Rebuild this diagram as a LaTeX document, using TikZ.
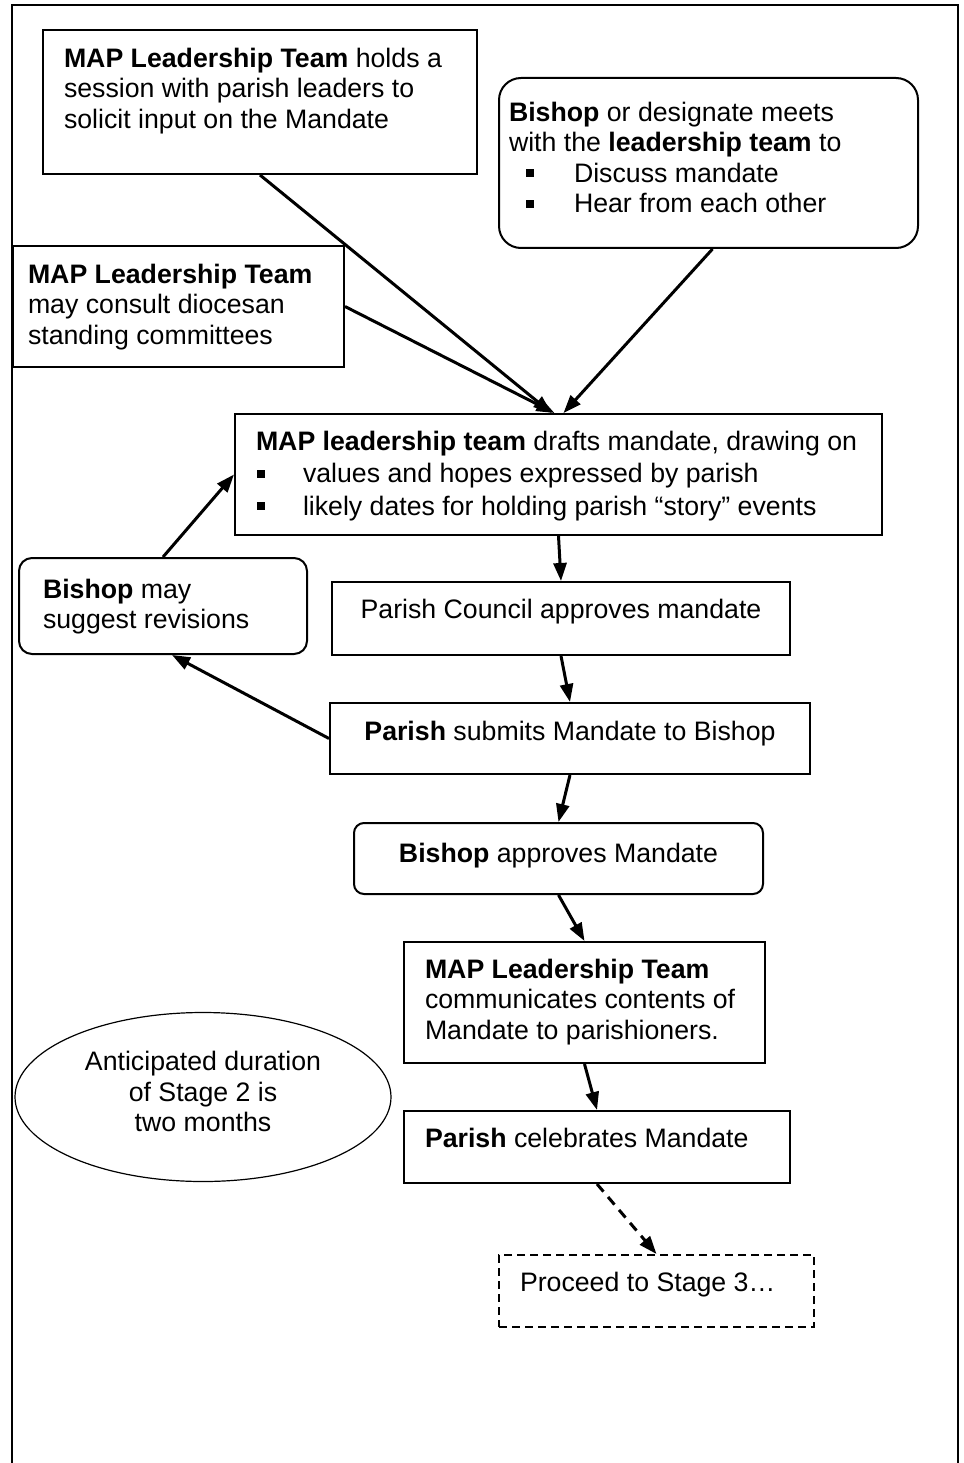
\documentclass[tikz,border=0pt]{standalone}
\usepackage{fontspec}
\setmainfont{Liberation Sans}
\usetikzlibrary{arrows.meta, shapes.geometric}

\newcommand{\boxtext}[3]{\parbox[t][#2][t]{#1}{\raggedright\strut#3}}
\newcommand{\boxtextc}[3]{\parbox[t][#2][t]{#1}{\centering\strut#3}}
\newcommand{\sqbul}[2]{\hspace*{#1}\makebox[#2][l]{\rule[5pt]{8pt}{8pt}}}

\begin{document}
\begin{tikzpicture}[
						x=1pt, y=-1pt,
						every node/.style = {font=\fontsize{26.7}{30.5}\selectfont},
						square/.style = {draw, line width=2pt, rectangle, anchor=north west, inner sep=0pt},
						rbox/.style = {square, rounded corners=#1},
						rbox/.default = 12pt,
						dbox/.style = {square, dash pattern=on 8pt off 5pt},
						oval/.style = {draw, ellipse, line width=1.2pt, minimum width=376pt, minimum height=169pt, inner sep=0pt, align=center},
						link/.style = {-{Triangle[length=18pt, width=13pt]}, line width=3pt}
					]
\useasboundingbox (0,0) rectangle (963,1463);
\draw[line width=2.5pt] (12,1463) -- (12,5) -- (958,5) -- (958,1463);

\node[square, inner xsep=21pt, inner ysep=16pt] (session) at (42,29)
	{\boxtext{392pt}{112pt}{\textbf{MAP Leadership Team} holds a\\ session with parish leaders to\\ solicit input on the Mandate}};
\node[rbox=22pt, inner xsep=10pt, inner ysep=22pt] (meets) at (498,77)
	{\boxtext{399pt}{126pt}{\textbf{Bishop} or designate meets\\ with the \textbf{leadership team} to\\ \sqbul{17pt}{48pt}Discuss mandate\\ \sqbul{17pt}{48pt}Hear from each other}};
\node[square, inner xsep=15pt, inner ysep=16pt] (consult) at (12,245)
	{\boxtext{301pt}{89pt}{\textbf{MAP Leadership Team}\\ may consult diocesan\\ standing committees}};
\node[square, inner xsep=21pt, inner ysep=15pt] (drafts) at (234,413)
	{\boxtext{605pt}{91pt}{\textbf{MAP leadership team} drafts mandate, drawing on\\[2pt] \sqbul{1pt}{46pt}values and hopes expressed by parish\\[2pt] \sqbul{1pt}{46pt}likely dates for holding parish “story” events}};
\node[rbox=13pt, inner xsep=24pt, inner ysep=19pt] (revise) at (18,557)
	{\boxtext{240pt}{58pt}{\textbf{Bishop} may\\ suggest revisions}};
\node[square, inner xsep=10pt, inner ysep=15pt] (council) at (331,581)
	{\boxtextc{438pt}{43pt}{Parish Council approves mandate}};
\node[square, inner xsep=10pt, inner ysep=16pt] (submit) at (329,702)
	{\boxtextc{460pt}{39pt}{\textbf{Parish} submits Mandate to Bishop}};
\node[rbox=10pt, inner xsep=10pt, inner ysep=18pt] (approve) at (353,822)
	{\boxtextc{389pt}{35pt}{\textbf{Bishop} approves Mandate}};
\node[square, inner xsep=21pt, inner ysep=15pt] (tell) at (403,941)
	{\boxtext{319pt}{91pt}{\textbf{MAP Leadership Team}\\ communicates contents of\\ Mandate to parishioners.}};
\node[square, inner xsep=21pt, inner ysep=15pt] (party) at (403,1110)
	{\boxtext{344pt}{42pt}{\textbf{Parish} celebrates Mandate}};
\node[dbox, inner xsep=21pt, inner ysep=15pt] (next) at (498,1254)
	{\boxtext{273pt}{42pt}{Proceed to Stage 3…}};
\node[oval] (span) at (203,1097) {\raisebox{0pt}[\height][\dimexpr\depth+11pt]{\parbox{245pt}{\centering Anticipated duration\\ of Stage 2 is\\ two months}}};

\draw[link] (session.south) -- ([xshift=-7pt]drafts.north);
\draw[link] (consult.east) -- ([xshift=-4pt]drafts.north);
\draw[link] ([xshift=4pt]meets.south) -- ([xshift=5pt]drafts.north);
\draw[link] (revise.north) -- (drafts.west);
\draw[link] (drafts.south) -- (council.north);
\draw[link] (council.south) -- (submit.north);
\draw[link] (submit.west) -- ([xshift=9pt]revise.south);
\draw[link] (submit.south) -- (approve.north);
\draw[link] (approve.south) -- (tell.north);
\draw[link] (tell.south) -- (party.north);
\draw[link, dash pattern=on 10pt off 7pt] (party.south) -- (next.north);
\end{tikzpicture}
\end{document}
